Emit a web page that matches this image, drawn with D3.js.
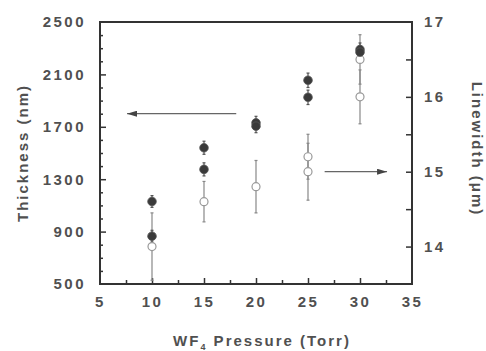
<!DOCTYPE html>
<html><head><meta charset="utf-8">
<script src="https://cdn.jsdelivr.net/npm/d3@7"></script>
<style>
html,body{margin:0;padding:0;background:#fff;}
svg{display:block;}
text{font-family:"Liberation Sans",Arial,sans-serif;fill:#505050;font-weight:bold;}
</style></head>
<body>
<svg id="c" width="486" height="351"></svg>
<script>
const xTicks = [5,10,15,20,25,30,35];
const xMinor = [7.5,12.5,17.5,22.5,27.5,32.5];
const thickTicks = [500,900,1300,1700,2100,2500];
const thickMinor = d3.range(600,2500,100).filter(v => (v-500)%400 !== 0);
const lwTicks = [14,15,16,17];
const lwMinor = [14.5,15.5,16.5];

const pressure = [10,15,20,25,30];
const thicknessA = [1130,1540,1730,2055,2290];
const thicknessB = [865,1375,1705,1925,2270];
const thicknessErr = [45,50,50,55,50];
const linewidthA = [14.0,14.6,14.8,15.2,16.5];
const linewidthErrA = [0.45,0.27,0.35,0.3,0.33];
const linewidthB = [null,null,null,15.0,16.0];
const linewidthErrB = [null,null,null,0.38,0.36];

const svg = d3.select("#c");
const L=100,R=412,T=22,B=284;
const x = d3.scaleLinear().domain([5,35]).range([L,R]);
const yL = d3.scaleLinear().domain([500,2500]).range([B,T]);
const yR = d3.scaleLinear().domain([13.5,17]).range([B,T]);

const axisCol="#333";
const fontSize=15;

// minor ticks
const gLm = svg.append("g").attr("transform",`translate(${L},0)`)
  .call(d3.axisLeft(yL).tickValues(thickMinor).tickSize(-3).tickFormat(""));
const gBm = svg.append("g").attr("transform",`translate(0,${B})`)
  .call(d3.axisBottom(x).tickValues(xMinor).tickSize(-4).tickFormat(""));
const gRm = svg.append("g").attr("transform",`translate(${R},0)`)
  .call(d3.axisRight(yR).tickValues(lwMinor).tickSize(-6).tickFormat(""));
[gLm,gBm,gRm].forEach(g=>{g.select(".domain").remove();g.selectAll("line").attr("stroke",axisCol).attr("stroke-width",1.5);});

// major axes
const gL = svg.append("g").attr("transform",`translate(${L},0)`)
  .call(d3.axisLeft(yL).tickValues(thickTicks).tickSize(-6).tickPadding(14).tickFormat(d3.format("d")));
const gB = svg.append("g").attr("transform",`translate(0,${B})`)
  .call(d3.axisBottom(x).tickValues(xTicks).tickSize(-6).tickPadding(12).tickFormat(d3.format("d")));
const gR = svg.append("g").attr("transform",`translate(${R},0)`)
  .call(d3.axisRight(yR).tickValues(lwTicks).tickSize(-6).tickPadding(12).tickFormat(d3.format("d")));
[gL,gB,gR].forEach(g=>{
  g.select(".domain").remove();
  g.selectAll("line").attr("stroke",axisCol).attr("stroke-width",1.5);
  g.selectAll("text").attr("font-size",fontSize).attr("fill","#505050")
    .attr("font-family","Liberation Sans, Arial, sans-serif").attr("font-weight","bold")
    .style("letter-spacing","2.5px");
});
gB.selectAll(".tick").filter(d=>d===35||d===5).select("line").remove();
gR.selectAll(".tick").filter(d=>d===17).select("line").remove();
gL.selectAll(".tick").filter(d=>d===500||d===2500).select("line").remove();

// frame
svg.append("rect").attr("x",L).attr("y",T).attr("width",R-L).attr("height",B-T)
  .attr("fill","none").attr("stroke",axisCol).attr("stroke-width",2);

// titles
svg.append("text").attr("transform",`translate(28,153) rotate(-90)`)
  .attr("text-anchor","middle").attr("font-size",15).style("letter-spacing","2px")
  .text("Thickness (nm)");
svg.append("text").attr("transform",`translate(472,149) rotate(90)`)
  .attr("text-anchor","middle").attr("font-size",15).style("letter-spacing","2px")
  .text("Linewidth (μm)");
const xt = svg.append("text").attr("x",262).attr("y",346).attr("text-anchor","middle")
  .attr("font-size",15).style("letter-spacing","2px");
xt.append("tspan").text("WF");
xt.append("tspan").attr("dy",4).attr("font-size",9).text("4");
xt.append("tspan").attr("dy",-4).text(" Pressure (Torr)");

// error bars & markers
function errbar(xv, yv, e, scale, col){
  const lo = Math.max(scale(yv-e), B), hi = scale(yv+e);
  svg.append("line").attr("x1",x(xv)).attr("x2",x(xv))
    .attr("y1",Math.min(scale(yv-e),B)).attr("y2",hi)
    .attr("stroke",col).attr("stroke-width",1.2);
  [yv-e,yv+e].forEach(v=>svg.append("line").attr("x1",x(xv)-1.5).attr("x2",x(xv)+1.5)
    .attr("y1",scale(v)).attr("y2",scale(v)).attr("stroke",col).attr("stroke-width",1.2));
}
const lwCol="#888";
pressure.forEach((p,i)=>{
  errbar(p,linewidthA[i],linewidthErrA[i],yR,lwCol);
  if(linewidthB[i]!=null) errbar(p,linewidthB[i],linewidthErrB[i],yR,lwCol);
});
pressure.forEach((p,i)=>{
  errbar(p,thicknessA[i],thicknessErr[i],yL,"#555");
  errbar(p,thicknessB[i],thicknessErr[i],yL,"#555");
});
pressure.forEach((p,i)=>{
  [linewidthA[i],linewidthB[i]].forEach(v=>{
    if(v==null) return;
    svg.append("circle").attr("cx",x(p)).attr("cy",yR(v)).attr("r",4)
      .attr("fill","#fff").attr("stroke","#999").attr("stroke-width",1.2);
  });
});
pressure.forEach((p,i)=>{
  [thicknessA[i],thicknessB[i]].forEach(v=>{
    svg.append("circle").attr("cx",x(p)).attr("cy",yL(v)).attr("r",4.3)
      .attr("fill","#3a3a3a").attr("stroke","#555").attr("stroke-width",0.8);
  });
});

// arrows
const defs = svg.append("defs");
defs.append("marker").attr("id","ah").attr("viewBox","0 0 10 6").attr("refX",10).attr("refY",3)
  .attr("markerWidth",10).attr("markerHeight",6).attr("markerUnits","userSpaceOnUse").attr("orient","auto")
  .append("path").attr("d","M0,0L10,3L0,6Z").attr("fill","#444");
svg.append("line").attr("x1",x(18.1)).attr("x2",x(7.6)).attr("y1",yL(1800)).attr("y2",yL(1800))
  .attr("stroke","#666").attr("stroke-width",1.2).attr("marker-end","url(#ah)");
svg.append("line").attr("x1",x(26.6)).attr("x2",x(32.6)).attr("y1",yR(15)).attr("y2",yR(15))
  .attr("stroke","#666").attr("stroke-width",1.2).attr("marker-end","url(#ah)");
</script>
</body></html>
